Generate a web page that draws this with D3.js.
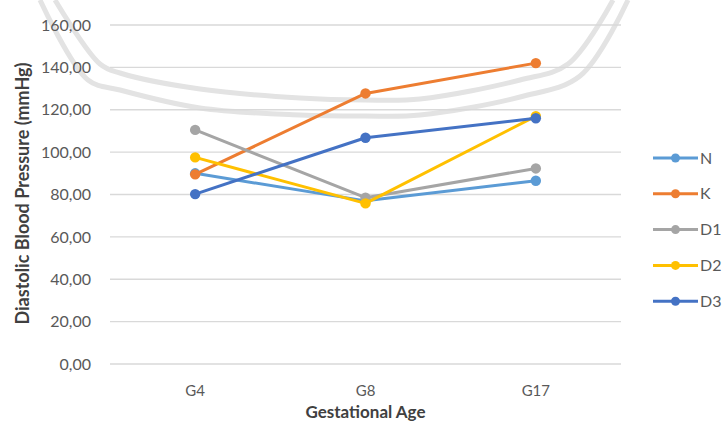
<!DOCTYPE html>
<html><head><meta charset="utf-8">
<script src="https://cdn.jsdelivr.net/npm/d3@7/dist/d3.min.js"></script>
<style>body{margin:0;background:#fff;}svg{display:block;font-family:Lato,"Open Sans",sans-serif;}</style>
</head><body><svg id="c" width="722" height="428"></svg>
<script>
const categories = ["G4", "G8", "G17"];
const seriesNames = ["N", "K", "D1", "D2", "D3"];
const valuesN  = [90.0, 77.0, 86.5];
const valuesK  = [89.5, 127.7, 142.0];
const valuesD1 = [110.5, 78.5, 92.3];
const valuesD2 = [97.5, 75.8, 117.0];
const valuesD3 = [80.2, 106.8, 116.0];
const yTicks = [0, 20, 40, 60, 80, 100, 120, 140, 160];
const colors = ["#5B9BD5", "#ED7D31", "#A5A5A5", "#FFC000", "#4472C4"];
const xTitle = "Gestational Age";
const yTitle = "Diastolic Blood Pressure (mmHg)";

const series = [valuesN, valuesK, valuesD1, valuesD2, valuesD3].map((v, i) => ({name: seriesNames[i], values: v, color: colors[i]}));

const svg = d3.select("#c");
const pLeft = 110, pRight = 621, pTop = 25, pBottom = 364;

// watermark decoration (background emblem)
const wm = svg.append("g").attr("fill", "none").attr("stroke", "#e3e3e3").attr("stroke-width", 5).attr("stroke-linejoin", "round");
const wmLine = d3.line().curve(d3.curveCatmullRom.alpha(0.5));
wm.append("path").attr("d", wmLine([[55,0],[100,64],[120,73],[200,89],[300,98],[365,100],[420,99],[520,80],[568,64],[613,0]]));
wm.append("path").attr("d", wmLine([[40,0],[88,80],[120,90],[200,108],[300,115],[365,116],[420,115],[520,97],[580,76],[628,0]]));

const x = d3.scaleBand().domain(categories).range([pLeft, pRight]);
const y = d3.scaleLinear().domain([0, 160]).range([pBottom, pTop]);

// gridlines
svg.append("g").selectAll("line").data(yTicks).join("line")
  .attr("x1", pLeft).attr("x2", pRight)
  .attr("y1", d => y(d)).attr("y2", d => y(d))
  .attr("stroke", "#d9d9d9").attr("stroke-width", 1.3);

const fmt = d => d.toFixed(2).replace(".", ",");
const yAxis = svg.append("g").attr("transform", `translate(${pLeft},0)`)
  .call(d3.axisLeft(y).tickValues(yTicks).tickFormat(fmt).tickSize(0).tickPadding(19));
yAxis.select(".domain").remove();
yAxis.selectAll("text").attr("fill", "#595959").style("font-size", "16px").style("font-family", "Lato, sans-serif");

const xAxis = svg.append("g").attr("transform", `translate(0,${pBottom})`)
  .call(d3.axisBottom(x).tickSize(0).tickPadding(21));
xAxis.select(".domain").remove();
xAxis.selectAll("text").attr("fill", "#595959").style("font-size", "15px").style("font-family", "Lato, sans-serif");

svg.append("text").attr("x", (pLeft + pRight) / 2).attr("y", 418).attr("text-anchor", "middle")
  .attr("fill", "#404040").style("font-weight", "bold").style("font-size", "17px").text(xTitle);
svg.append("text").attr("transform", `translate(29,${193.5}) rotate(-90)`).attr("text-anchor", "middle")
  .attr("fill", "#404040").style("font-weight", "bold").style("font-size", "18px").text(yTitle);

const line = d3.line().x((d, i) => x(categories[i]) + x.bandwidth() / 2).y(d => y(d));
const g = svg.append("g");
series.forEach(s => {
  g.append("path").attr("d", line(s.values)).attr("fill", "none").attr("stroke", s.color).attr("stroke-width", 3).attr("stroke-linejoin", "round");
  g.selectAll(null).data(s.values).join("circle")
    .attr("cx", (d, i) => x(categories[i]) + x.bandwidth() / 2).attr("cy", d => y(d))
    .attr("r", 5.2).attr("fill", s.color);
});

// legend
const lg = svg.append("g");
series.forEach((s, i) => {
  const ly = 158 + i * 35.8;
  lg.append("line").attr("x1", 653).attr("x2", 698).attr("y1", ly).attr("y2", ly).attr("stroke", s.color).attr("stroke-width", 3);
  lg.append("circle").attr("cx", 675.5).attr("cy", ly).attr("r", 4.5).attr("fill", s.color);
  lg.append("text").attr("x", 700).attr("y", ly).attr("dy", "0.35em").attr("fill", "#595959").style("font-size", "16px").text(s.name);
});
</script></body></html>
